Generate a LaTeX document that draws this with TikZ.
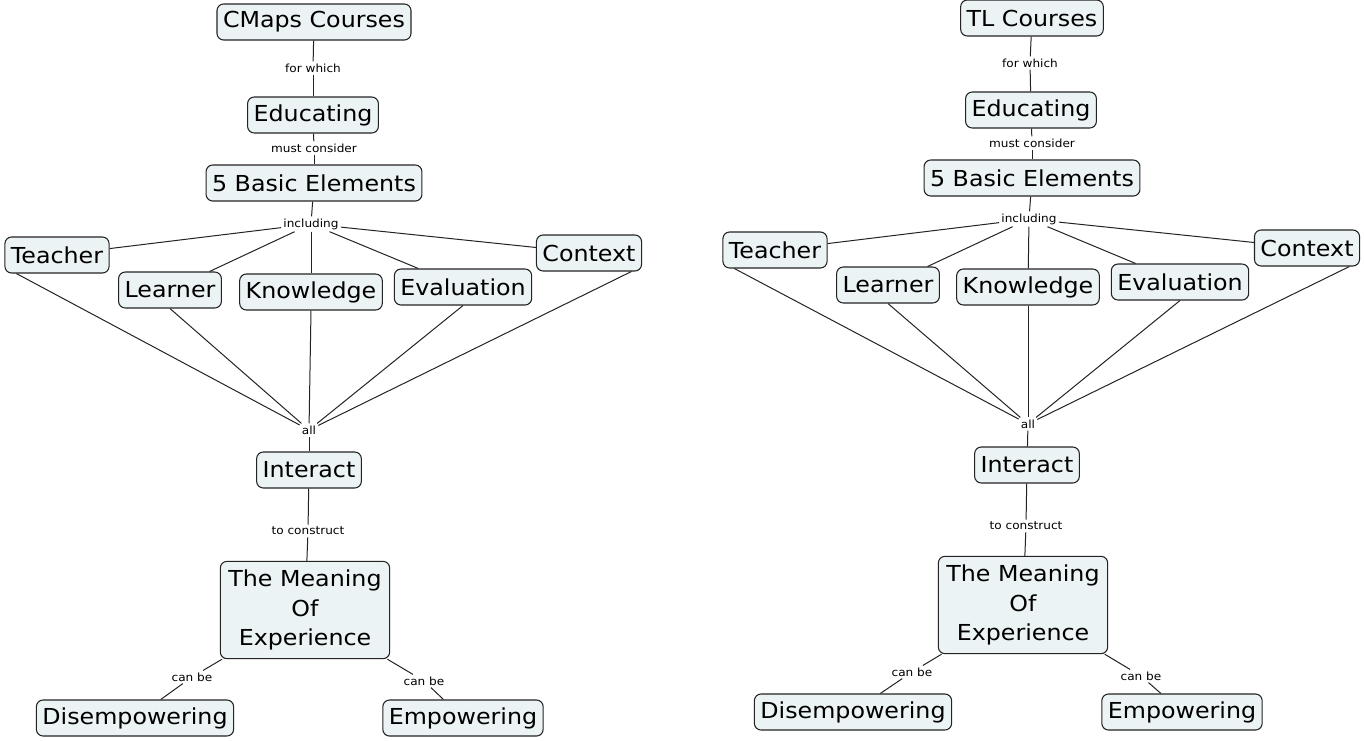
\documentclass[tikz,border=0pt]{standalone}
\usepackage{fontspec}
\setmainfont{DejaVu Sans}[FakeStretch=1.08]
\usepackage{xcolor}
\usetikzlibrary{positioning}
\definecolor{conceptfill}{RGB}{236,243,245}
\definecolor{linkgray}{RGB}{35,35,35}

\begin{document}
\begin{tikzpicture}[
    x=0.75pt, y=-0.75pt,
    concept/.style={draw=linkgray, fill=conceptfill, rounded corners=5pt, line width=0.8pt,
      font=\fontsize{16.5}{22}\selectfont, inner xsep=4.5pt, inner ysep=2pt,
      minimum height=27pt, align=center},
    linkword/.style={font=\fontsize{8.4}{9.5}\selectfont, inner sep=1.5pt},
    link/.style={draw=linkgray, line width=0.75pt},
  ]
    \useasboundingbox (0,0) rectangle (1364,740);

    % -- Left map --
    \node[concept] (l-cmaps) at (314,22) {CMaps Courses};
    \node[linkword] (l-for) at (313,68) {for which};
    \node[concept] (l-edu) at (313,115) {Educating};
    \node[linkword] (l-must) at (314,148) {must consider};
    \node[concept] (l-basic) at (314,183) {5 Basic Elements};
    \node[linkword] (l-incl) at (311,224) {including};
    \node[concept] (l-teacher) at (57,255) {Teacher};
    \node[concept] (l-learner) at (170,290) {Learner};
    \node[concept] (l-know) at (311,292) {Knowledge};
    \node[concept] (l-eval) at (463,287) {Evaluation};
    \node[concept] (l-context) at (589,253) {Context};
    \node[linkword] (l-all) at (309,430) {all};
    \node[concept] (l-interact) at (309,470) {Interact};
    \node[linkword] (l-construct) at (308,531) {to construct};
    \node[concept, minimum height=73pt, minimum width=127pt] (l-meaning) at (305,610) {The Meaning\\Of\\Experience};
    \node[linkword] (l-canbe1) at (192,677) {can be};
    \node[linkword] (l-canbe2) at (424,681) {can be};
    \node[concept] (l-disemp) at (135,718) {Disempowering};
    \node[concept] (l-emp) at (463,718) {Empowering};
    % links
    \draw[link] (l-cmaps) -- (l-for);
    \draw[link] (l-for) -- (l-edu);
    \draw[link] (l-edu) -- (l-must);
    \draw[link] (l-must) -- (l-basic);
    \draw[link] (l-basic) -- (l-incl);
    \draw[link] (l-incl) -- (l-teacher);
    \draw[link] (l-incl) -- (l-learner);
    \draw[link] (l-incl) -- (l-know);
    \draw[link] (l-incl) -- (l-eval);
    \draw[link] (l-incl) -- (l-context);
    \draw[link] ([xshift=9pt]l-teacher.south west) -- (l-all);
    \draw[link] (l-learner.south) -- (l-all);
    \draw[link] (l-know.south) -- (l-all);
    \draw[link] (l-eval.south) -- (l-all);
    \draw[link] ([xshift=-8pt]l-context.south east) -- (l-all);
    \draw[link] (l-all) -- (l-interact);
    \draw[link] (l-interact) -- (l-construct);
    \draw[link] (l-construct) -- (l-meaning);
    \draw[link] (l-meaning) -- (l-canbe1);
    \draw[link] (l-canbe1) -- (l-disemp);
    \draw[link] (l-meaning) -- (l-canbe2);
    \draw[link] (l-canbe2) -- (l-emp);

    % -- Right map --
    \node[concept] (r-tl) at (1032,18) {TL Courses};
    \node[linkword] (r-for) at (1030,63) {for which};
    \node[concept] (r-edu) at (1031,110) {Educating};
    \node[linkword] (r-must) at (1032,143) {must consider};
    \node[concept] (r-basic) at (1032,178) {5 Basic Elements};
    \node[linkword] (r-incl) at (1029,219) {including};
    \node[concept] (r-teacher) at (775,250) {Teacher};
    \node[concept] (r-learner) at (888,285) {Learner};
    \node[concept] (r-know) at (1028,287) {Knowledge};
    \node[concept] (r-eval) at (1180,282) {Evaluation};
    \node[concept] (r-context) at (1307,248) {Context};
    \node[linkword] (r-all) at (1028,424) {all};
    \node[concept] (r-interact) at (1027,465) {Interact};
    \node[linkword] (r-construct) at (1026,526) {to construct};
    \node[concept, minimum height=73pt, minimum width=127pt] (r-meaning) at (1023,605) {The Meaning\\Of\\Experience};
    \node[linkword] (r-canbe1) at (912,672) {can be};
    \node[linkword] (r-canbe2) at (1141,676) {can be};
    \node[concept] (r-disemp) at (853,712) {Disempowering};
    \node[concept] (r-emp) at (1182,712) {Empowering};
    % links
    \draw[link] (r-tl) -- (r-for);
    \draw[link] (r-for) -- (r-edu);
    \draw[link] (r-edu) -- (r-must);
    \draw[link] (r-must) -- (r-basic);
    \draw[link] (r-basic) -- (r-incl);
    \draw[link] (r-incl) -- (r-teacher);
    \draw[link] (r-incl) -- (r-learner);
    \draw[link] (r-incl) -- (r-know);
    \draw[link] (r-incl) -- (r-eval);
    \draw[link] (r-incl) -- (r-context);
    \draw[link] ([xshift=9pt]r-teacher.south west) -- (r-all);
    \draw[link] (r-learner.south) -- (r-all);
    \draw[link] (r-know.south) -- (r-all);
    \draw[link] (r-eval.south) -- (r-all);
    \draw[link] ([xshift=-8pt]r-context.south east) -- (r-all);
    \draw[link] (r-all) -- (r-interact);
    \draw[link] (r-interact) -- (r-construct);
    \draw[link] (r-construct) -- (r-meaning);
    \draw[link] (r-meaning) -- (r-canbe1);
    \draw[link] (r-canbe1) -- (r-disemp);
    \draw[link] (r-meaning) -- (r-canbe2);
    \draw[link] (r-canbe2) -- (r-emp);
\end{tikzpicture}
\end{document}
